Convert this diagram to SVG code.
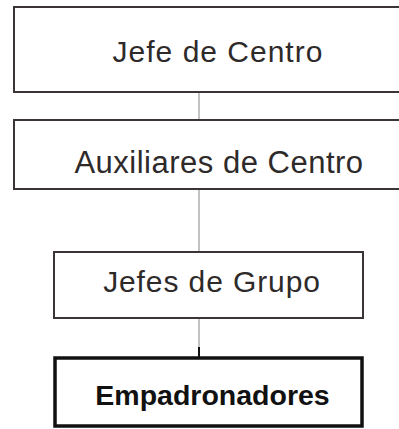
<svg xmlns="http://www.w3.org/2000/svg" width="399" height="429" viewBox="0 0 399 429">
<style>
.box{fill:none;stroke:#3a3434;stroke-width:2}
.bold{fill:none;stroke:#111;stroke-width:3.5}
.lbl{font-family:"Liberation Sans",Arial,sans-serif;fill:#2e2a2a;text-anchor:middle}
.conn{stroke:#888;stroke-width:1;fill:none}
</style>
<rect width="399" height="429" fill="#fff"/>
<g id="connectors">
<line class="conn" x1="199" y1="92" x2="199" y2="120"/>
<line class="conn" x1="199" y1="189" x2="199" y2="252"/>
<line class="conn" x1="199" y1="318" x2="199" y2="347"/>
<line x1="199" y1="347" x2="199" y2="358" stroke="#111" stroke-width="2"/>
</g>
<g id="jefe-centro">
<rect class="box" x="14" y="7" width="400" height="85"/>
<text class="lbl" x="218" y="62" font-size="30" letter-spacing="1">Jefe de Centro</text>
</g>
<g id="auxiliares-centro">
<rect class="box" x="14" y="120" width="400" height="69"/>
<text class="lbl" x="219" y="173" font-size="31" letter-spacing="0.5">Auxiliares de Centro</text>
</g>
<g id="jefes-grupo">
<rect class="box" x="54" y="252" width="309" height="66"/>
<text class="lbl" x="212" y="292" font-size="30" letter-spacing="0.9">Jefes de Grupo</text>
</g>
<g id="empadronadores">
<rect class="bold" x="55" y="358" width="307" height="68"/>
<text class="lbl" x="212.5" y="405" font-size="28.5" font-weight="bold" fill="#111" style="fill:#111">Empadronadores</text>
</g>
</svg>
